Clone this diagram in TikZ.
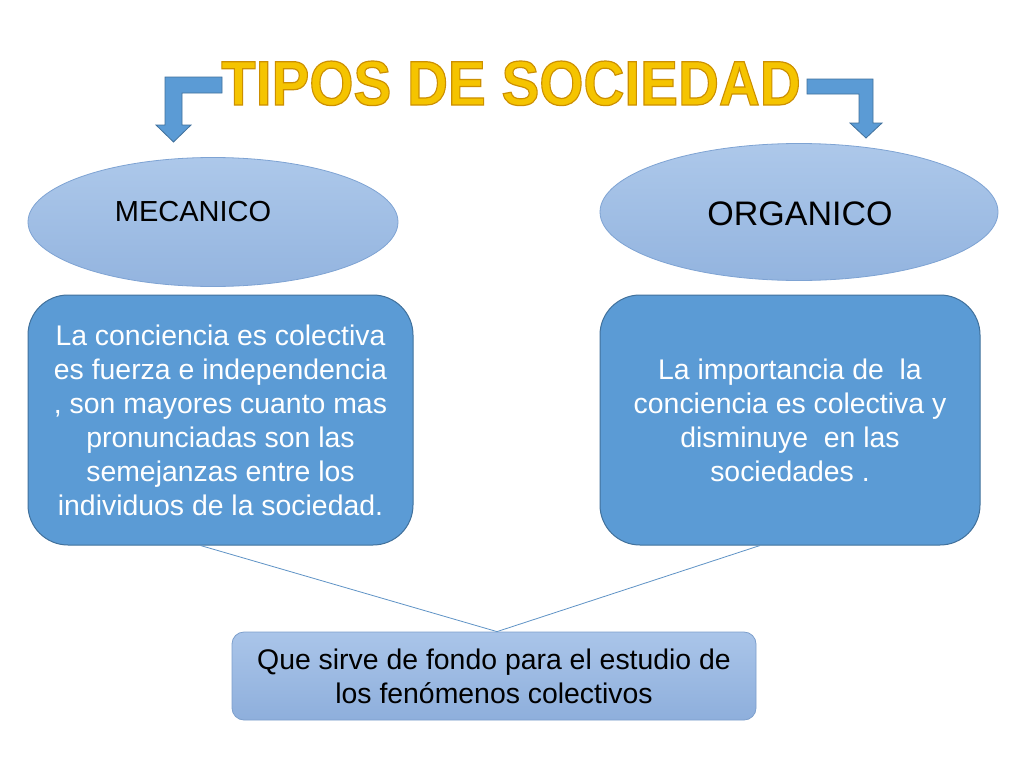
\documentclass[tikz,border=0pt]{standalone}
\usepackage{fontspec}
\setmainfont{Liberation Sans}
\usetikzlibrary{shapes.geometric}
\definecolor{ellTop}{HTML}{ADC8EA}
\definecolor{ellBot}{HTML}{93B4DF}
\definecolor{ellLine}{HTML}{7EA3D3}
\definecolor{boxFill}{HTML}{5B9BD5}
\definecolor{boxLine}{HTML}{41719C}
\definecolor{botTop}{HTML}{AAC5E9}
\definecolor{botBot}{HTML}{8EAFDC}
\definecolor{botLine}{HTML}{7D9FCC}
\definecolor{linkCol}{HTML}{5F93C6}
\definecolor{gold}{HTML}{F5C400}
\newcommand{\outlinedtext}[1]{\special{pdf:code 2 Tr 1.2 w 0.80 0.56 0.0 RG}#1\special{pdf:code 0 Tr}}
\tikzset{
  ell/.style={ellipse, draw=ellLine, line width=0.8pt, top color=ellTop, bottom color=ellBot, inner sep=0pt},
  bluebox/.style={rectangle, rounded corners=40pt, draw=boxLine, line width=1pt, fill=boxFill, text=white,
     align=center, font=\fontsize{28.4}{34}\selectfont, inner sep=0pt},
  botbox/.style={rectangle, rounded corners=12pt, draw=botLine, line width=0.8pt, top color=botTop, bottom color=botBot,
     align=center, font=\fontsize{28.4}{34}\selectfont, inner sep=0pt},
  bentarrow/.style={fill=boxFill, draw=boxLine, line width=0.8pt, line join=miter},
  link/.style={draw=linkCol, line width=0.8pt},
}
\begin{document}
\begin{tikzpicture}[x=1pt,y=-1pt]
\useasboundingbox (0,0) rectangle (1024,768);
\fill[white] (0,0) rectangle (1024,768);

% title
\node[text=gold, font=\fontsize{63}{63}\bfseries\selectfont, xscale=0.9, inner sep=0pt, anchor=base]
  (title) at (511,105) {\outlinedtext{TIPOS DE SOCIEDAD}};

% bent arrows
\draw[bentarrow] (222,77) -- (165,77) -- (165,125) -- (156,125) -- (173.5,142) -- (191,125) -- (182,125) -- (182,93) -- (222,93) -- cycle;
\draw[bentarrow] (807,79) -- (873,79) -- (873,123) -- (882,123) -- (866,138) -- (850,123) -- (859,123) -- (859,94) -- (807,94) -- cycle;

% ellipses
\node[ell, minimum width=370pt, minimum height=129pt] (mec) at (213,222) {};
\node[font=\fontsize{29}{34}\selectfont, inner sep=0pt] (mectext) at (193,212) {MECANICO};
\node[ell, minimum width=398pt, minimum height=137pt] (org) at (799,212) {};
\node[font=\fontsize{34}{40}\selectfont, inner sep=0pt] (orgtext) at (800,214) {ORGANICO};

% boxes
\node[bluebox, minimum width=385pt, minimum height=250pt] (lbox) at (220.5,420)
 {La conciencia es colectiva\\es fuerza e independencia\\, son mayores cuanto mas\\pronunciadas son las\\semejanzas entre los\\individuos de la sociedad.};
\node[bluebox, minimum width=380pt, minimum height=250pt] (rbox) at (790,420)
 {La importancia de~ la\\conciencia es colectiva y\\disminuye~ en las\\sociedades .};

\node[botbox, minimum width=524pt, minimum height=88pt] (bot) at (494,676)
 {Que sirve de fondo para el estudio de\\los fenómenos colectivos};

% connectors
\draw[link] ([xshift=-20pt]lbox.south) -- ([xshift=3pt]bot.north);
\draw[link] ([xshift=-30pt]rbox.south) -- ([xshift=3pt]bot.north);
\end{tikzpicture}
\end{document}
